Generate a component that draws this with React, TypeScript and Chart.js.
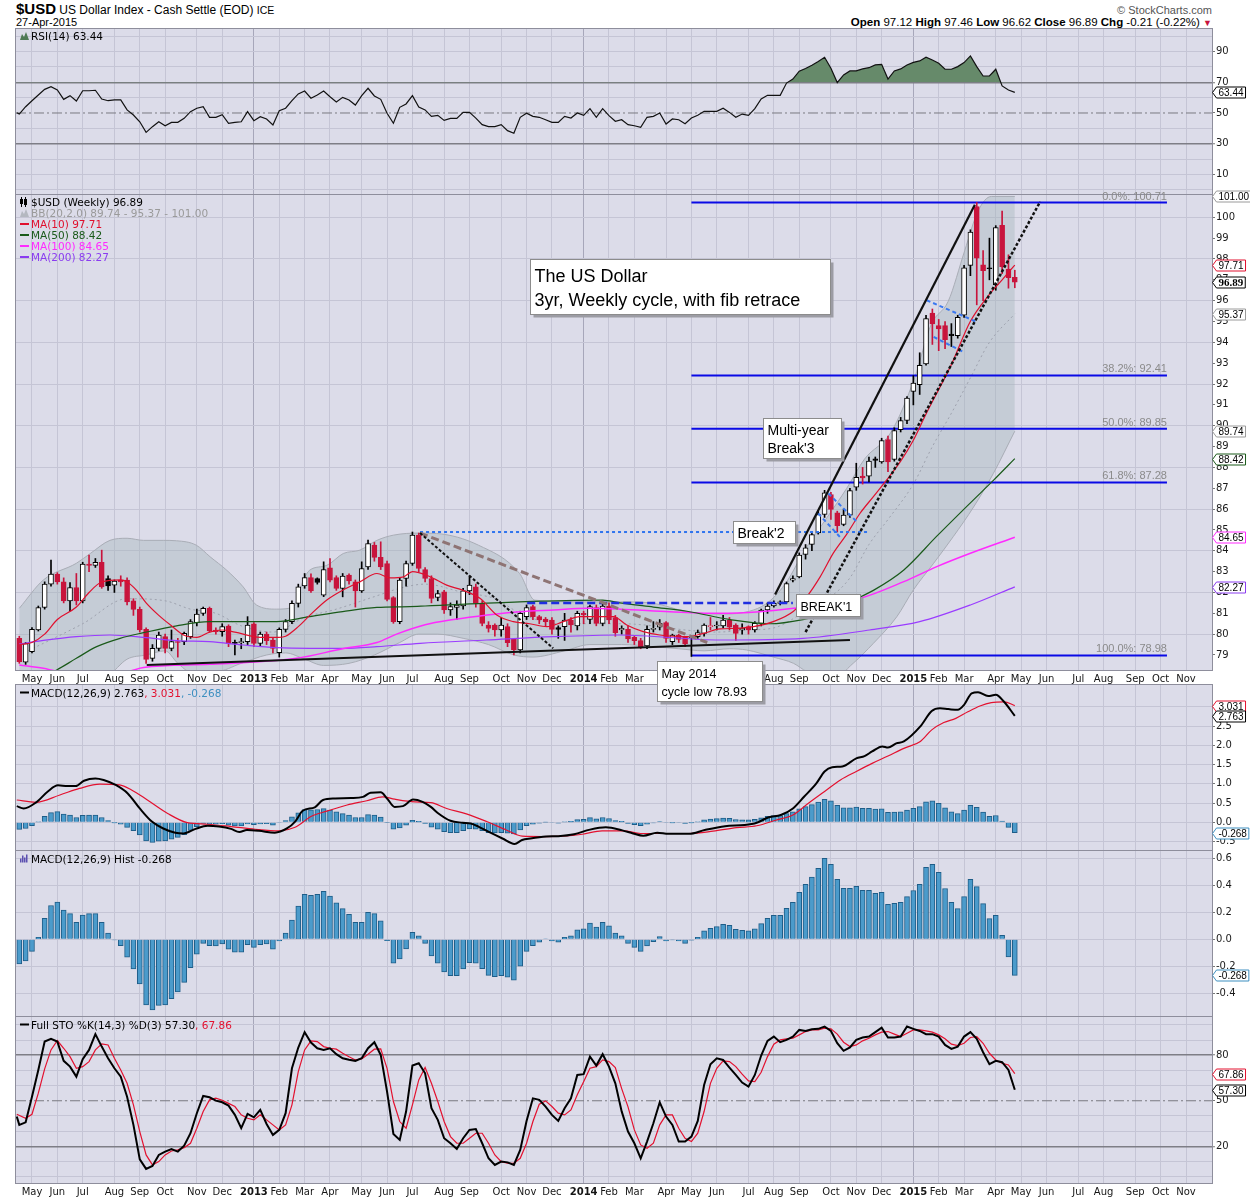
import React, { useEffect, useRef } from 'react';
import { Chart, registerables } from 'chart.js';

Chart.register(...registerables);

type P = [number, number];

// ---------------- categories (weekly candles, first week = 23-Apr-2012) ----------------
const FIRST_WEEK_UTC = Date.UTC(2012, 3, 23);
const WEEK_MS = 7 * 24 * 3600 * 1000;
const MONTH_NAMES = ['Jan', 'Feb', 'Mar', 'Apr', 'May', 'Jun', 'Jul', 'Aug', 'Sep', 'Oct', 'Nov', 'Dec'];
const X_MIN = -0.52;
const X_MAX = 188.1;

// ---------------- weekly OHLC ----------------
const OPEN = [79.80, 78.65, 79.16, 80.20, 81.28, 82.40, 82.88, 82.51, 81.60, 82.24,
  81.60, 83.36, 83.30, 83.44, 82.67, 82.35, 82.59, 82.59, 81.60, 81.19,
  80.23, 78.84, 79.32, 79.88, 79.32, 79.64, 79.64, 79.88, 80.55, 81.00,
  81.24, 80.20, 80.12, 80.39, 79.59, 79.59, 79.64, 80.49, 79.56, 80.00,
  79.72, 79.11, 80.23, 80.60, 81.48, 82.32, 82.72, 82.67, 81.87, 83.18,
  82.72, 82.19, 82.83, 82.51, 82.08, 83.23, 84.27, 83.68, 83.39, 81.76,
  80.60, 82.67, 83.39, 84.75, 83.10, 82.67, 81.76, 82.03, 81.16, 81.28,
  81.35, 82.08, 82.27, 81.48, 80.44, 80.44, 80.20, 80.36, 79.75, 79.24,
  80.84, 81.32, 80.84, 80.72, 80.68, 80.32, 80.36, 80.68, 80.39, 81.00,
  80.71, 81.28, 80.52, 81.35, 80.80, 80.20, 80.23, 79.85, 79.69, 79.43,
  80.23, 80.33, 80.56, 79.64, 79.96, 79.85, 79.83, 79.88, 80.04, 80.36,
  80.39, 80.39, 80.68, 80.44, 80.20, 80.36, 80.20, 80.52, 81.16, 81.35,
  81.47, 81.55, 82.59, 82.75, 83.82, 84.30, 84.86, 85.74, 86.70, 85.82,
  85.26, 85.71, 87.05, 87.58, 87.58, 88.41, 88.26, 89.33, 88.38, 89.81,
  90.25, 91.65, 91.97, 92.96, 95.41, 94.80, 94.80, 94.40, 94.32, 95.30,
  97.69, 100.52, 97.72, 97.57, 96.77, 99.61, 97.52, 97.12];
const HIGH = [79.90, 79.60, 80.32, 81.35, 82.51, 83.55, 82.95, 82.70, 82.48, 82.91,
  83.45, 83.79, 83.63, 84.03, 82.80, 82.60, 82.80, 82.70, 81.70, 81.30,
  80.30, 79.50, 80.10, 80.00, 80.20, 79.80, 80.10, 80.70, 81.20, 81.30,
  81.30, 80.30, 80.50, 80.45, 79.72, 79.80, 80.84, 80.55, 80.10, 80.10,
  79.80, 80.30, 80.70, 81.60, 82.40, 82.91, 82.90, 82.70, 83.47, 83.63,
  82.80, 82.91, 82.90, 82.60, 83.47, 84.51, 84.40, 84.43, 83.50, 81.80,
  82.70, 83.50, 84.90, 84.85, 83.20, 82.80, 82.10, 82.10, 81.50, 81.60,
  82.20, 82.80, 82.40, 81.60, 80.60, 80.50, 80.80, 80.50, 79.80, 81.10,
  81.40, 81.40, 80.90, 80.80, 80.80, 80.40, 81.00, 80.80, 81.10, 81.10,
  81.40, 81.40, 81.50, 81.50, 80.90, 80.40, 80.40, 79.90, 79.80, 80.40,
  80.60, 80.70, 80.60, 80.00, 80.00, 79.90, 79.90, 80.20, 80.50, 80.80,
  80.60, 80.90, 80.80, 80.50, 80.50, 80.40, 80.60, 81.20, 81.50, 81.60,
  81.60, 82.50, 82.80, 83.90, 84.30, 84.90, 85.90, 86.90, 86.80, 85.90,
  86.00, 87.00, 88.20, 88.00, 88.50, 88.50, 89.40, 89.50, 89.90, 90.40,
  91.40, 92.40, 93.50, 95.30, 95.60, 95.10, 95.00, 94.90, 95.30, 97.70,
  99.40, 100.71, 98.40, 99.00, 99.60, 100.30, 98.20, 97.46];
const LOW = [78.60, 78.55, 79.10, 80.15, 81.20, 82.30, 82.40, 81.50, 81.12, 81.40,
  81.50, 83.00, 83.20, 82.20, 82.10, 82.00, 82.30, 81.40, 80.90, 80.10,
  78.60, 78.70, 79.20, 79.10, 79.20, 78.90, 79.50, 79.80, 80.40, 80.90,
  80.10, 80.00, 79.90, 79.40, 79.00, 79.30, 79.50, 79.40, 79.40, 79.50,
  79.10, 78.90, 80.10, 80.50, 81.30, 82.20, 82.00, 82.40, 81.80, 82.50,
  82.10, 81.79, 82.40, 81.30, 82.00, 83.10, 83.50, 83.10, 81.60, 80.52,
  80.50, 82.30, 83.30, 83.00, 82.50, 81.50, 81.60, 81.00, 80.90, 80.70,
  81.20, 81.90, 81.30, 80.40, 80.10, 79.90, 79.90, 79.40, 79.00, 79.10,
  80.70, 80.70, 80.50, 80.40, 80.00, 79.80, 79.70, 80.10, 80.20, 80.50,
  80.50, 80.40, 80.40, 80.50, 79.90, 80.00, 79.60, 79.50, 79.30, 79.30,
  80.10, 80.20, 79.60, 79.50, 79.60, 79.40, 78.93, 79.80, 79.90, 80.20,
  80.20, 80.30, 80.20, 79.70, 80.00, 80.00, 80.10, 80.40, 81.00, 81.30,
  81.40, 81.50, 82.50, 82.70, 83.60, 84.00, 84.80, 85.60, 85.50, 84.90,
  85.20, 85.60, 86.90, 87.20, 87.30, 88.00, 88.20, 87.80, 88.30, 89.70,
  90.10, 91.00, 91.50, 92.90, 93.90, 93.60, 93.70, 93.80, 94.20, 95.20,
  97.20, 95.80, 96.00, 97.00, 96.50, 97.30, 96.60, 96.62];
const CLOSE = [78.68, 79.55, 80.23, 81.28, 82.40, 82.88, 82.51, 81.60, 82.24, 81.60,
  83.36, 83.30, 83.44, 82.27, 82.32, 82.55, 82.50, 81.55, 81.19, 80.20,
  78.79, 79.32, 79.96, 79.32, 79.64, 79.60, 80.04, 80.60, 80.96, 81.24,
  80.16, 80.12, 80.36, 79.56, 79.56, 79.64, 80.44, 79.56, 80.00, 79.69,
  79.32, 80.23, 80.60, 81.48, 82.27, 82.72, 82.07, 82.48, 83.10, 82.59,
  82.19, 82.79, 82.55, 82.08, 83.15, 84.35, 83.68, 83.23, 81.67, 80.60,
  82.59, 83.39, 84.75, 83.15, 82.67, 81.71, 81.95, 81.16, 81.32, 81.40,
  82.08, 82.35, 81.48, 80.52, 80.28, 80.20, 80.44, 79.59, 79.24, 81.00,
  81.28, 80.84, 80.68, 80.60, 80.23, 80.23, 80.68, 80.44, 81.00, 80.92,
  81.32, 80.52, 81.35, 80.68, 80.07, 80.28, 79.77, 79.69, 79.40, 80.23,
  80.28, 80.52, 79.80, 79.96, 79.75, 79.53, 79.88, 80.07, 80.44, 80.39,
  80.44, 80.68, 80.33, 80.04, 80.28, 80.20, 80.52, 81.16, 81.35, 81.48,
  81.55, 82.43, 82.67, 83.79, 84.14, 84.78, 85.74, 86.78, 85.98, 85.21,
  85.71, 86.89, 87.53, 87.50, 88.30, 88.33, 89.29, 88.26, 89.77, 90.25,
  91.33, 92.05, 92.90, 95.14, 94.88, 94.64, 94.13, 94.32, 95.20, 97.57,
  99.29, 98.04, 97.44, 97.53, 99.51, 97.63, 97.10, 96.89];

// ---------------- overlays: [week index, value] ----------------
const MA10: P[] = [[0, 79.5], [2, 79.6], [4, 80.0], [6, 80.7], [9, 81.3], [11, 82.0], [13, 82.5], [16, 82.6], [17, 82.5], [18.5, 82.1], [20, 81.5], [22, 80.9], [24, 80.4], [26, 79.95], [28, 79.85], [30, 80.1], [32, 80.2], [34, 80.1], [38, 79.85], [41, 79.85], [42, 79.9], [44, 80.36], [46, 80.96], [48.5, 81.64], [51, 82.11], [53.7, 82.51], [56.4, 82.91], [58.5, 82.7], [60.6, 82.75], [62, 83.0], [64.8, 82.75], [67.4, 82.35], [70, 82.1], [72.7, 81.71], [75.3, 80.92], [77.9, 80.6], [80.5, 80.5], [83.2, 80.36], [85.8, 80.6], [88.4, 80.84], [91.1, 80.84], [93.7, 80.84], [95.8, 80.44], [98.4, 80.12], [101, 79.96], [103.1, 79.9], [105.3, 79.88], [107.9, 80.04], [110.5, 80.25], [113.2, 80.28], [115.8, 80.36], [118.9, 80.6], [122.1, 81.1], [124.2, 81.8], [126.3, 82.75], [128.4, 83.9], [130.5, 84.8], [132.6, 85.8], [134.7, 86.6], [136.8, 87.4], [139, 88.3], [141, 89.3], [143, 90.56], [147, 92.94], [150, 95.01], [153, 96.3], [155, 97.0], [157, 97.71]];
const MA50: P[] = [[0, 77.4], [5.9, 78.28], [9, 78.84], [12.2, 79.4], [15.9, 79.8], [19.6, 80.07], [24.8, 80.4], [30, 80.6], [35.3, 80.6], [40.6, 80.6], [45.8, 80.84], [51, 81.08], [56.4, 81.28], [61.6, 81.32], [64, 81.35], [78.9, 81.55], [92, 81.63], [94.7, 81.5], [100, 81.3], [105.3, 81.1], [112.1, 80.7], [118.4, 80.5], [123.6, 80.7], [127.4, 81.0], [131.6, 81.64], [134.7, 82.1], [139.5, 83.08], [144.7, 84.7], [150, 86.3], [153.7, 87.4], [157, 88.42]];
const MA100: P[] = [[0, 78.52], [3.8, 78.36], [6, 78.22], [12, 78.1], [17, 78.2], [19.6, 78.4], [30, 78.55], [43.7, 78.84], [51, 79.3], [56.4, 79.6], [59.5, 80.0], [64, 80.45], [68.5, 80.7], [73.8, 80.92], [79, 81.08], [84.3, 81.16], [89.5, 81.24], [94.7, 81.2], [102.6, 81.08], [110.5, 81.0], [116.8, 81.08], [122.1, 81.24], [132.6, 81.72], [139.5, 82.52], [144.7, 83.24], [150, 83.88], [157, 84.65]];
const MA200: P[] = [[0, 79.53], [3.8, 79.7], [9, 79.88], [14.3, 79.96], [19.6, 79.85], [24.8, 79.69], [30, 79.64], [35.3, 79.48], [40.6, 79.35], [45.8, 79.32], [51, 79.32], [56.4, 79.4], [63.2, 79.56], [73.7, 79.72], [84.3, 79.88], [94.7, 79.96], [110.5, 79.72], [123.6, 79.8], [134.1, 80.2], [142, 80.6], [150, 81.4], [157, 82.27]];
const BB_UPPER: P[] = [[0, 81.24], [3.8, 82.6], [9, 83.4], [11.2, 83.87], [14.3, 84.5], [17, 84.6], [19.6, 84.5], [22.7, 84.5], [24.8, 84.48], [27.9, 84.27], [30.1, 83.71], [32.7, 83.07], [35.3, 82.27], [37.4, 81.4], [40.6, 81.2], [43.2, 81.3], [44.8, 82.6], [45.8, 83.07], [48.5, 83.3], [51.1, 83.87], [53.7, 84.03], [56.4, 84.5], [59, 84.75], [63.2, 84.85], [65.8, 84.83], [72.4, 84.27], [78.9, 82.91], [81.3, 81.63], [89.5, 81.55], [94.8, 81.55], [100, 81.48], [105.3, 81.08], [110.5, 80.96], [115.8, 81.16], [118.4, 81.6], [121, 82.5], [124, 84.1], [127.4, 85.6], [130.5, 87.0], [133.3, 88.4], [137.5, 89.7], [141.2, 92.3], [143.8, 94.85], [146.5, 95.97], [149.1, 98.4], [151.2, 100.3], [153.3, 101.0], [157, 101.0]];
const BB_LOWER: P[] = [[0, 76.8], [5, 77.2], [10, 77.6], [14, 78.0], [17, 78.8], [20, 79.0], [23, 79.2], [25, 78.6], [27, 78.2], [31, 78.2], [35, 78.6], [39, 79.0], [42, 79.1], [45, 78.8], [48, 78.5], [52, 78.6], [56, 79.0], [60, 79.6], [63, 80.0], [66, 80.0], [70, 79.8], [74, 79.5], [78, 79.0], [81, 78.9], [86, 79.2], [90, 79.5], [95, 79.5], [100, 79.4], [104, 79.3], [108, 79.2], [112, 79.3], [114.7, 79.24], [118.9, 78.9], [122.1, 78.6], [124.2, 78.2], [128, 77.8], [131.5, 78.6], [134.7, 79.56], [138.4, 80.84], [141, 82.12], [144.2, 83.4], [147.3, 84.68], [150.5, 86.1], [153.6, 87.7], [157, 89.74]];
const BB_MID: P[] = [[0, 79.0], [10, 80.5], [17, 81.7], [23, 81.6], [27, 81.2], [31, 81.0], [35, 80.4], [40, 80.1], [45, 80.8], [50, 81.2], [56, 81.8], [60, 82.2], [64, 82.4], [70, 82.0], [75, 81.7], [79, 81.0], [85, 80.5], [90, 80.5], [95, 80.5], [100, 80.4], [105, 80.2], [110, 80.1], [115, 80.2], [119, 80.3], [124, 81.1], [128, 81.8], [131, 82.7], [134, 84.3], [137, 85.5], [141, 87.2], [144, 89.0], [147, 90.6], [150, 92.3], [153, 94.0], [157, 95.37]];

// Fibonacci retracement levels (0%, 38.2%, 50%, 61.8%, 100%)
const FIB_LEVELS = [100.71, 92.41, 89.85, 87.28, 78.98];
const FIB_NAMES = ['0.0%', '38.2%', '50.0%', '61.8%', '100.0%'];
const FIB_SPAN: P = [106, 181];

// hand-drawn trend lines: pairs of [week index, price]
const SUPPORT_LINE: P[] = [[20.1, 78.52], [131, 79.72]];
const RALLY_LINE: P[] = [[119.2, 81.9], [150.7, 100.6]];
const RALLY_DOTTED: P[] = [[124, 80.1], [161, 100.75]];
const DOWN_DOTTED: P[] = [[63.2, 84.85], [84.2, 79.32]];
const DOWN_DASHED: P[] = [[63.2, 84.85], [108.5, 79.6]];
const BREAK2_LINE: P[] = [[63.2, 84.9], [134, 84.9]];
const BREAK1_LINE: P[] = [[80.1, 81.5], [122, 81.5]];
const FLAG_LINES: P[][] = [
  [[126.0, 85.79], [129.4, 84.67]], [[127.6, 86.75], [132.1, 85.39]],
  [[143.1, 96.02], [151.0, 94.98]], [[144.2, 94.26], [148.9, 93.54]],
];

// ---------------- RSI(14) ----------------
const RSI: P[] = [[-0.4, 50.2], [0, 49.3], [1, 54.1], [2, 58.0], [3, 61.7], [4, 65.4], [5, 67.1], [6, 65.0], [7, 58.9], [8, 61.3], [9, 57.8], [10, 64.5], [11, 64.5], [12, 64.8], [13, 59.1], [14, 58.0], [15, 58.5], [16, 58.5], [17, 52.0], [18, 48.7], [19, 44.3], [20, 37.4], [21, 41.1], [22, 44.3], [23, 41.7], [24, 43.9], [25, 43.9], [26, 46.5], [27, 50.9], [28, 53.1], [29, 54.1], [30, 47.2], [31, 47.2], [32, 48.9], [33, 43.3], [34, 43.9], [35, 44.3], [36, 50.9], [37, 45.0], [38, 47.6], [39, 46.1], [40, 42.2], [41, 51.5], [42, 53.1], [43, 58.0], [44, 62.4], [45, 64.3], [46, 59.6], [47, 61.7], [48, 64.3], [49, 60.6], [50, 57.2], [51, 60.2], [52, 58.5], [53, 55.2], [54, 61.3], [55, 66.1], [56, 61.1], [57, 58.9], [58, 49.8], [59, 43.3], [60, 53.7], [61, 55.9], [62, 61.3], [63, 53.9], [64, 52.0], [65, 47.8], [66, 48.5], [67, 45.2], [68, 46.5], [69, 46.5], [70, 50.4], [71, 50.4], [72, 46.7], [73, 42.4], [74, 41.1], [75, 41.1], [76, 42.4], [77, 38.5], [78, 36.8], [79, 47.2], [80, 49.8], [81, 47.8], [82, 47.2], [83, 45.6], [84, 43.9], [85, 43.9], [86, 47.8], [87, 46.7], [88, 50.0], [89, 48.5], [90, 52.8], [91, 47.2], [92, 52.8], [93, 48.3], [94, 44.6], [95, 45.6], [96, 42.4], [97, 41.7], [98, 40.7], [99, 47.2], [100, 47.8], [101, 50.0], [102, 42.8], [103, 46.1], [104, 45.6], [105, 43.0], [106, 46.7], [107, 48.5], [108, 51.1], [109, 51.1], [110, 51.1], [111, 53.1], [112, 50.4], [113, 47.2], [114, 49.3], [115, 48.5], [116, 52.8], [117, 59.1], [118, 61.5], [119, 61.5], [120, 61.5], [121, 69.5], [122, 72.1], [123, 77.2], [124, 79.0], [125, 81.1], [126, 83.5], [127, 86.3], [128, 79.1], [129, 69.8], [130, 74.8], [131, 77.4], [132, 77.4], [133, 78.7], [134, 79.5], [135, 81.3], [136, 81.7], [137, 72.1], [138, 77.4], [139, 78.7], [140, 81.3], [141, 83.0], [142, 83.9], [143, 86.3], [144, 84.5], [145, 82.4], [146, 78.5], [147, 78.5], [148, 80.2], [149, 82.8], [150, 87.2], [151, 80.2], [152, 74.1], [153, 74.1], [154, 78.5], [155, 67.6], [156, 65.0], [157, 63.44]];

// ---------------- MACD(12,26,9) ----------------
const MACD_LINE: P[] = [[-0.4, 0.42], [0.7, 0.36], [2.6, 0.51], [4.5, 0.80], [6.1, 0.96], [7.6, 0.94], [8.9, 0.94], [10.2, 1.08], [12, 1.14], [13.3, 1.10], [15.2, 0.97], [17.1, 0.75], [19, 0.36], [20.9, 0.02], [22.7, -0.16], [24.6, -0.27], [25.9, -0.29], [27.8, -0.17], [29.7, -0.09], [31.5, -0.11], [33.4, -0.17], [34.7, -0.25], [35.9, -0.20], [37.8, -0.22], [40.3, -0.27], [42.2, -0.16], [43.5, 0.02], [44.7, 0.30], [46.6, 0.39], [47.9, 0.58], [49.8, 0.62], [52.3, 0.63], [54.2, 0.66], [55.4, 0.77], [57, 0.78], [58, 0.62], [59.2, 0.40], [60.5, 0.42], [62.1, 0.59], [63.6, 0.53], [64.9, 0.40], [66.1, 0.23], [68, 0.04], [69.9, -0.01], [71.2, -0.03], [72.4, -0.11], [74.3, -0.27], [76.2, -0.42], [78.1, -0.56], [79.3, -0.46], [80.6, -0.42], [83.1, -0.37], [85, -0.36], [87.5, -0.31], [90, -0.19], [92.5, -0.13], [95.1, -0.21], [96.8, -0.29], [98.4, -0.35], [100.6, -0.27], [102.4, -0.30], [105.6, -0.30], [108.1, -0.20], [111.3, -0.10], [114.4, -0.07], [116.3, -0.01], [118.2, 0.13], [120.1, 0.19], [122, 0.36], [123.8, 0.67], [125.7, 1.01], [127, 1.32], [128.2, 1.43], [129.8, 1.45], [132, 1.66], [133.3, 1.72], [134.5, 1.84], [136.1, 1.97], [137, 1.94], [138.3, 2.05], [139.5, 2.10], [142.1, 2.49], [143.9, 2.89], [145.2, 2.96], [146.5, 2.94], [148, 2.92], [149, 3.05], [150.2, 3.35], [151.2, 3.38], [152.8, 3.28], [154, 3.31], [155.3, 3.13], [157, 2.763]];
const MACD_SIGNAL: P[] = [[-0.4, 0.58], [2.6, 0.52], [6.4, 0.71], [9.5, 0.88], [12.7, 0.99], [15.8, 0.97], [17.7, 0.84], [20.2, 0.58], [23.4, 0.23], [26.5, -0.01], [29.7, -0.05], [33.4, -0.11], [37.2, -0.18], [41, -0.22], [43.5, -0.13], [46, 0.15], [48.5, 0.29], [51.7, 0.45], [54.8, 0.56], [57.3, 0.66], [59.2, 0.60], [62.4, 0.53], [64.9, 0.51], [67.4, 0.36], [70.5, 0.22], [73.7, 0.02], [76.8, -0.20], [79.3, -0.36], [82.5, -0.37], [85.6, -0.36], [88.8, -0.31], [91.9, -0.22], [95.3, -0.22], [98, -0.29], [101.8, -0.29], [105.6, -0.29], [109.4, -0.23], [113.1, -0.14], [116.3, -0.09], [119.4, 0.06], [122, 0.19], [124.5, 0.50], [127, 0.80], [129.5, 1.10], [132, 1.32], [134.5, 1.53], [137, 1.72], [139.5, 1.92], [142.1, 2.10], [143.9, 2.40], [145.8, 2.59], [147.7, 2.70], [149.6, 2.87], [151.5, 3.02], [153.3, 3.11], [155.3, 3.13], [157, 3.031]];
const MACD_HIST = [-0.183, -0.16, -0.09, 0.015, 0.155, 0.25, 0.276, 0.217, 0.19, 0.125,
  0.18, 0.19, 0.19, 0.125, 0.045, -0.005, -0.047, -0.133, -0.22, -0.33,
  -0.486, -0.523, -0.49, -0.486, -0.44, -0.39, -0.32, -0.21, -0.11, -0.03,
  -0.047, -0.05, -0.035, -0.074, -0.096, -0.096, -0.04, -0.06, -0.04, -0.035,
  -0.074, -0.012, 0.045, 0.143, 0.245, 0.333, 0.326, 0.333, 0.356, 0.32,
  0.27, 0.227, 0.185, 0.125, 0.125, 0.2, 0.19, 0.136, -0.01, -0.178,
  -0.146, -0.072, 0.052, 0.025, -0.03, -0.123, -0.178, -0.242, -0.27, -0.27,
  -0.22, -0.173, -0.178, -0.217, -0.267, -0.277, -0.27, -0.28, -0.304, -0.2,
  -0.09, -0.047, -0.022, 0.004, -0.012, -0.022, 0.015, 0.025, 0.07, 0.077,
  0.12, 0.09, 0.125, 0.1, 0.045, 0.025, -0.03, -0.06, -0.09, -0.05,
  -0.017, 0.02, -0.012, -0.005, -0.012, -0.03, -0.007, 0.015, 0.062, 0.081,
  0.094, 0.11, 0.104, 0.074, 0.067, 0.062, 0.077, 0.116, 0.156, 0.178,
  0.178, 0.23, 0.274, 0.348, 0.407, 0.46, 0.526, 0.6, 0.556, 0.444,
  0.378, 0.378, 0.393, 0.363, 0.363, 0.341, 0.348, 0.259, 0.267, 0.274,
  0.316, 0.361, 0.407, 0.533, 0.556, 0.496, 0.376, 0.274, 0.227, 0.316,
  0.444, 0.39, 0.264, 0.153, 0.178, 0.03, -0.131, -0.268];

// ---------------- Full Stochastics %K(14,3) %D(3) ----------------
const STO_K: P[] = [[-0.4, 39.6], [0, 34.1], [1, 35.8], [2, 52.7], [3, 70.3], [4, 89.0], [5, 90.8], [6, 89.0], [7, 76.3], [8, 72.5], [9, 65.9], [10, 77.4], [11, 83.5], [12, 93.9], [13, 85.7], [14, 78.0], [15, 71.4], [16, 65.9], [17, 52.7], [18, 34.1], [19, 11.4], [20, 5.1], [21, 7.0], [22, 14.3], [23, 16.5], [24, 18.2], [25, 16.5], [26, 20.4], [27, 28.6], [28, 41.8], [29, 53.2], [30, 52.3], [31, 50.1], [32, 49.0], [33, 46.8], [34, 40.7], [35, 31.9], [36, 41.3], [37, 39.1], [38, 44.0], [39, 34.7], [40, 27.5], [41, 30.8], [42, 41.8], [43, 71.4], [44, 85.1], [45, 95.2], [46, 88.4], [47, 84.6], [48, 83.5], [49, 84.6], [50, 80.7], [51, 78.0], [52, 77.0], [53, 76.3], [54, 78.0], [55, 84.6], [56, 88.6], [57, 80.2], [58, 56.0], [59, 28.1], [60, 24.2], [61, 42.9], [62, 73.2], [63, 74.7], [64, 68.1], [65, 45.1], [66, 37.4], [67, 25.3], [68, 22.0], [69, 18.2], [70, 25.3], [71, 30.8], [72, 31.4], [73, 22.0], [74, 12.1], [75, 7.7], [76, 9.9], [77, 9.4], [78, 7.7], [79, 17.6], [80, 36.7], [81, 51.6], [82, 50.6], [83, 46.2], [84, 40.7], [85, 36.7], [86, 45.1], [87, 51.6], [88, 67.0], [89, 67.5], [90, 79.1], [91, 73.2], [92, 80.7], [93, 72.5], [94, 61.5], [95, 43.0], [96, 29.7], [97, 22.0], [98, 12.1], [99, 23.1], [100, 35.2], [101, 49.0], [102, 39.6], [103, 34.1], [104, 23.1], [105, 23.1], [106, 26.4], [107, 36.7], [108, 60.4], [109, 74.1], [110, 78.0], [111, 76.9], [112, 71.9], [113, 67.0], [114, 62.0], [115, 59.3], [116, 67.0], [117, 79.8], [118, 89.5], [119, 92.3], [120, 88.6], [121, 90.1], [122, 92.3], [123, 96.7], [124, 96.0], [125, 97.1], [126, 97.4], [127, 98.9], [128, 96.0], [129, 87.9], [130, 82.9], [131, 85.1], [132, 90.1], [133, 91.7], [134, 92.3], [135, 95.2], [136, 98.2], [137, 91.7], [138, 91.7], [139, 92.3], [140, 98.9], [141, 97.4], [142, 96.0], [143, 93.9], [144, 93.9], [145, 92.3], [146, 86.8], [147, 84.2], [148, 85.7], [149, 92.3], [150, 95.2], [151, 90.8], [152, 82.0], [153, 74.1], [154, 76.3], [155, 75.4], [156, 70.3], [157, 57.3]];
const STO_D: P[] = [[-0.4, 41.1], [1, 38.5], [2, 41.1], [3, 55.0], [4, 71.0], [5, 83.5], [6, 89.7], [7, 84.6], [8, 79.1], [9, 71.4], [10, 72.5], [11, 75.8], [12, 83.5], [13, 87.5], [14, 86.8], [15, 78.0], [16, 70.3], [17, 61.5], [18, 47.3], [19, 29.7], [20, 14.3], [21, 7.7], [22, 9.9], [23, 14.3], [24, 16.9], [25, 17.6], [26, 19.1], [27, 22.0], [28, 31.9], [29, 42.9], [30, 50.6], [31, 51.7], [32, 50.3], [33, 48.3], [34, 46.2], [35, 40.7], [36, 38.5], [37, 37.4], [38, 40.7], [39, 37.4], [40, 34.1], [41, 30.8], [42, 34.1], [43, 47.3], [44, 69.2], [45, 83.5], [46, 89.5], [47, 89.0], [48, 85.7], [49, 84.6], [50, 84.0], [51, 81.3], [52, 79.0], [53, 76.9], [54, 77.6], [55, 80.7], [56, 84.0], [57, 84.2], [58, 71.4], [59, 49.5], [60, 36.3], [61, 31.9], [62, 47.3], [63, 63.7], [64, 71.9], [65, 61.5], [66, 49.5], [67, 36.3], [68, 26.4], [69, 22.0], [70, 22.0], [71, 25.3], [72, 28.6], [73, 28.6], [74, 22.0], [75, 14.3], [76, 9.9], [77, 8.8], [78, 8.8], [79, 12.1], [80, 22.0], [81, 36.3], [82, 47.7], [83, 49.9], [84, 46.2], [85, 41.8], [86, 40.7], [87, 44.0], [88, 53.9], [89, 62.6], [90, 71.4], [91, 72.5], [92, 76.9], [93, 75.8], [94, 71.9], [95, 58.0], [96, 46.0], [97, 30.8], [98, 20.9], [99, 18.7], [100, 22.0], [101, 34.1], [102, 40.7], [103, 40.7], [104, 31.9], [105, 25.3], [106, 23.1], [107, 28.6], [108, 42.9], [109, 61.5], [110, 71.4], [111, 76.3], [112, 75.8], [113, 72.5], [114, 67.5], [115, 63.1], [116, 62.6], [117, 68.8], [118, 79.1], [119, 87.3], [120, 90.1], [121, 90.8], [122, 91.2], [123, 93.4], [124, 95.6], [125, 96.7], [126, 96.7], [127, 97.8], [128, 97.4], [129, 93.9], [130, 88.6], [131, 85.7], [132, 86.8], [133, 89.5], [134, 91.2], [135, 93.4], [136, 95.2], [137, 95.6], [138, 93.9], [139, 92.3], [140, 94.5], [141, 96.7], [142, 96.7], [143, 96.0], [144, 95.2], [145, 93.4], [146, 90.8], [147, 87.3], [148, 86.4], [149, 87.9], [150, 91.7], [151, 92.3], [152, 87.9], [153, 81.3], [154, 76.9], [155, 74.7], [156, 73.6], [157, 67.86]];

// ---------------- axis tick values ----------------
const PRICE_TICKS = [79, 80, 81, 82, 83, 84, 85, 86, 87, 88, 89, 90, 91, 92, 93, 94, 95, 96, 97, 98, 99, 100, 101];
const OSC_TICKS = [0, 10, 20, 30, 40, 50, 60, 70, 80, 90, 100];
const RSI_LABELS = [10, 30, 50, 70, 90];
const STO_LABELS = [20, 50, 80];
const MACD_TICKS = [-0.5, 0, 0.5, 1, 1.5, 2, 2.5, 3];
const HIST_TICKS = [-0.4, -0.2, 0, 0.2, 0.4, 0.6];

// ---------------- styles ----------------
const BG = '#dcdce9';
const GRID = '#c5c5d5';
const GRID_YEAR = '#a7a7ba';
const GRID_DARK = '#7e7e86';
const BORDER = '#8e8e9c';
const CANDLE_RED = '#c8143c';
const LINE_RED = '#e3112f';
const HIST_FILL = '#4b9bcb';
const HIST_EDGE = '#1e5d88';
const FONT = '"DejaVu Sans", Verdana, sans-serif';
const SANS = '"Liberation Sans", Arial, sans-serif';

// month ticks derived from the weekly calendar
const MONTH_TICKS: { v: number; label: string; year: boolean }[] = [];
for (let i = 1; i <= 188; i++) {
  const a = new Date(FIRST_WEEK_UTC + (i - 1) * WEEK_MS);
  const b = new Date(FIRST_WEEK_UTC + i * WEEK_MS);
  if (a.getUTCMonth() !== b.getUTCMonth()) {
    const m = b.getUTCMonth();
    MONTH_TICKS.push({ v: i, label: m === 0 ? String(b.getUTCFullYear()) : MONTH_NAMES[m], year: m === 0 });
  }
}
const tickOf = (v: number) => MONTH_TICKS.find((t) => Math.abs(t.v - v) < 1e-6);

const xy = (a: P[]) => a.map(([x, y]) => ({ x, y }));

const lineDs = (data: P[], color: string, width: number, extra: any = {}) => ({
  type: 'line',
  data: xy(data),
  borderColor: color,
  borderWidth: width,
  pointRadius: 0,
  fill: false,
  ...extra,
});

function xScale(showLabels: boolean) {
  return {
    type: 'linear',
    min: X_MIN,
    max: X_MAX,
    offset: false,
    afterBuildTicks: (s: any) => {
      s.ticks = MONTH_TICKS.map((t) => ({ value: t.v }));
    },
    grid: {
      offset: false,
      drawTicks: false,
      color: (c: any) => (c.tick && tickOf(c.tick.value)?.year ? GRID_YEAR : GRID),
      lineWidth: 1,
    },
    border: { display: false },
    ticks: {
      display: showLabels,
      autoSkip: false,
      maxRotation: 0,
      padding: 3,
      color: '#151515',
      font: (c: any) => ({ family: FONT, size: 10, weight: c.tick && tickOf(c.tick.value)?.year ? 'bold' : 'normal' }),
      callback: (v: number) => tickOf(v)?.label ?? '',
    },
    afterFit: (s: any) => {
      s.height = showLabels ? 15 : 0;
      s.paddingLeft = 0;
      s.paddingRight = 0;
    },
  };
}

function yScale(p: { min: number; max: number; ticks: number[]; label: (v: number) => string; grid: (v: number) => string; width?: (v: number) => number }) {
  return {
    type: 'linear',
    position: 'right',
    min: p.min,
    max: p.max,
    afterBuildTicks: (s: any) => {
      s.ticks = p.ticks.map((v) => ({ value: v }));
    },
    grid: {
      color: (c: any) => (c.tick ? p.grid(c.tick.value) : GRID),
      lineWidth: (c: any) => (c.tick && p.width ? p.width(c.tick.value) : 1),
      drawTicks: true,
      tickLength: 3,
      tickColor: (c: any) => (c.tick && p.label(c.tick.value) !== '' ? '#777' : 'rgba(0,0,0,0)'),
      tickWidth: 1,
    },
    border: { display: true, color: BORDER },
    ticks: {
      autoSkip: false,
      padding: 1,
      color: '#1a1a1a',
      font: { family: FONT, size: 10 },
      callback: (v: number) => p.label(v),
    },
    afterFit: (s: any) => {
      s.width = 38;
      s.paddingTop = 0;
      s.paddingBottom = 0;
    },
  };
}

type Part = [string, string];
type LegendRow = { icon: string; color: string; parts: Part[] };
type Tag = { v: number; text: string; color: string; bold?: boolean };

function drawIcon(ctx: CanvasRenderingContext2D, kind: string, color: string, x: number, base: number) {
  ctx.save();
  ctx.fillStyle = color;
  ctx.strokeStyle = color;
  if (kind === 'line') {
    ctx.fillRect(x, base - 5, 9, 2);
  } else if (kind === 'mountain') {
    ctx.beginPath();
    ctx.moveTo(x, base);
    ctx.lineTo(x + 2, base - 6);
    ctx.lineTo(x + 4, base - 3);
    ctx.lineTo(x + 6, base - 8);
    ctx.lineTo(x + 9, base);
    ctx.closePath();
    ctx.fill();
  } else if (kind === 'candle') {
    ctx.fillRect(x + 1, base - 9, 1, 10);
    ctx.fillRect(x, base - 7, 3, 5);
    ctx.fillRect(x + 5, base - 9, 1, 10);
    ctx.lineWidth = 1;
    ctx.strokeRect(x + 4.5, base - 6.5, 2, 5);
  } else if (kind === 'bars') {
    const hs = [4, 7, 5, 8];
    hs.forEach((h, k) => ctx.fillRect(x + k * 2, base - h, 1.5, h));
  }
  ctx.restore();
}

function drawLegend(ctx: CanvasRenderingContext2D, a: any, rows: LegendRow[], first: number) {
  ctx.save();
  ctx.font = `10.5px ${FONT}`;
  ctx.textBaseline = 'alphabetic';
  rows.forEach((r, k) => {
    const base = a.top + first + k * 11;
    drawIcon(ctx, r.icon, r.color, a.left + 4, base);
    let x = a.left + 15;
    r.parts.forEach(([t, c]) => {
      ctx.fillStyle = c;
      ctx.fillText(t, x, base);
      x += ctx.measureText(t).width;
    });
  });
  ctx.restore();
}

function drawTag(ctx: CanvasRenderingContext2D, x: number, y: number, t: Tag) {
  ctx.save();
  ctx.font = t.bold ? `bold 11px "Liberation Serif", serif` : `10px ${SANS}`;
  const w = ctx.measureText(t.text).width + 3;
  const h = 11;
  const yy = Math.round(y) + 0.5;
  ctx.beginPath();
  ctx.moveTo(x + 0.5, yy);
  ctx.lineTo(x + 4.5, yy - h / 2);
  ctx.lineTo(x + 5.5 + w, yy - h / 2);
  ctx.lineTo(x + 5.5 + w, yy + h / 2);
  ctx.lineTo(x + 4.5, yy + h / 2);
  ctx.closePath();
  ctx.fillStyle = '#ffffff';
  ctx.fill();
  ctx.strokeStyle = t.color;
  ctx.lineWidth = 1;
  ctx.stroke();
  ctx.fillStyle = '#000';
  ctx.textBaseline = 'middle';
  ctx.fillText(t.text, x + 6.5, yy + 0.5);
  ctx.restore();
}

function panelPlugin(cfg: { legend: LegendRow[]; legendFirst: number; tags: Tag[]; extra?: (chart: any) => void }) {
  return {
    id: 'panelDeco',
    beforeDraw(chart: any) {
      const { ctx, chartArea: a } = chart;
      ctx.save();
      ctx.fillStyle = BG;
      ctx.fillRect(a.left, a.top, a.right - a.left, a.bottom - a.top);
      ctx.restore();
    },
    afterDraw(chart: any) {
      const { ctx, chartArea: a } = chart;
      ctx.save();
      ctx.strokeStyle = BORDER;
      ctx.lineWidth = 1;
      ctx.strokeRect(a.left - 0.5, a.top - 0.5, a.right - a.left + 1, a.bottom - a.top + 1);
      ctx.restore();
      drawLegend(ctx, a, cfg.legend, cfg.legendFirst);
      if (cfg.extra) cfg.extra(chart);
      cfg.tags.forEach((t) => drawTag(ctx, a.right, chart.scales.y.getPixelForValue(t.v), t));
    },
  };
}

function baseOptions(padTop: number, padBottom: number, x: any, y: any) {
  return {
    responsive: false,
    animation: false,
    devicePixelRatio: 1,
    events: [],
    layout: { padding: { left: 16, right: 0, top: padTop, bottom: padBottom } },
    elements: { point: { radius: 0 }, line: { tension: 0 } },
    plugins: { legend: { display: false }, tooltip: { enabled: false }, title: { display: false } },
    scales: { x, y },
  };
}

const hline = (v: number): P[] => [[X_MIN, v], [X_MAX, v]];
const DASHDOT = [10, 3, 2, 3];

// ---------------- annotations in the price panel ----------------
const NOTES = [
  { x: 80.54, y: 98.0, w: 300, h: 55, size: 18, lines: ['The US Dollar', '3yr, Weekly cycle, with fib retrace'], first: 22, step: 24 },
  { x: 117.28, y: 90.37, w: 78, h: 40, size: 14, lines: ['Multi-year', "Break'3"], first: 16, step: 18 },
  { x: 112.55, y: 85.43, w: 62, h: 22, size: 14, lines: ["Break'2"], first: 16, step: 0 },
  { x: 122.49, y: 81.93, w: 64, h: 22, size: 12.5, lines: ["BREAK'1"], first: 16, step: 0 },
  { x: 100.57, y: 78.71, w: 105, h: 40, size: 12.5, lines: ['May 2014', 'cycle low 78.93'], first: 16, step: 18 },
];

function priceExtras(chart: any) {
  const { ctx } = chart;
  const xs = chart.scales.x;
  const ys = chart.scales.y;
  ctx.save();
  ctx.font = `11px ${SANS}`;
  ctx.fillStyle = '#8a8a8a';
  ctx.textAlign = 'right';
  ctx.textBaseline = 'alphabetic';
  FIB_LEVELS.forEach((v, k) => {
    ctx.fillText(`${FIB_NAMES[k]}: ${v.toFixed(2)}`, xs.getPixelForValue(FIB_SPAN[1]), ys.getPixelForValue(v) - 3);
  });
  ctx.restore();
  NOTES.forEach((n) => {
    const left = Math.round(xs.getPixelForValue(n.x)) + 0.5;
    const top = Math.round(ys.getPixelForValue(n.y)) + 0.5;
    ctx.save();
    ctx.fillStyle = '#9c9ca4';
    ctx.fillRect(left + 3, top + 3, n.w, n.h);
    ctx.fillStyle = '#ffffff';
    ctx.fillRect(left, top, n.w, n.h);
    ctx.strokeStyle = '#8c8c8c';
    ctx.lineWidth = 1;
    ctx.strokeRect(left, top, n.w, n.h);
    ctx.fillStyle = '#000';
    ctx.font = `${n.size}px ${SANS}`;
    ctx.textBaseline = 'alphabetic';
    n.lines.forEach((t, k) => ctx.fillText(t, left + 4, top + n.first + k * n.step));
    ctx.restore();
  });
}

// ---------------- chart configs ----------------
function rsiConfig() {
  return {
    type: 'line',
    data: {
      datasets: [
        lineDs(hline(50), '#7a7a80', 1, { borderDash: DASHDOT, order: 5 }),
        lineDs(RSI, '#111', 1.2, { fill: { target: { value: 70 }, above: '#668a6a', below: 'rgba(0,0,0,0)' }, order: 1 }),
      ],
    },
    options: baseOptions(8, 8, xScale(false), yScale({
      min: -3.4, max: 104.7, ticks: OSC_TICKS,
      label: (v) => (RSI_LABELS.includes(v) ? String(v) : ''),
      grid: (v) => (v === 30 || v === 70 ? GRID_DARK : v === 50 ? 'rgba(0,0,0,0)' : GRID),
      width: (v) => (v === 30 || v === 70 ? 1.5 : 1),
    })),
    plugins: [panelPlugin({
      legend: [{ icon: 'mountain', color: '#4f7a55', parts: [['RSI(14) 63.44', '#000']] }],
      legendFirst: 11,
      tags: [{ v: 63.44, text: '63.44', color: '#000' }],
    })],
  };
}

function priceConfig() {
  const up = OPEN.map((o, i) => CLOSE[i] >= o);
  const higher = CLOSE.map((c, i) => (i === 0 ? c >= OPEN[0] : c >= CLOSE[i - 1]));
  const edge = higher.map((h) => (h ? '#000000' : CANDLE_RED));
  const fillC = up.map((u, i) => (u ? '#ffffff' : edge[i]));
  return {
    type: 'line',
    data: {
      datasets: [
        lineDs(BB_UPPER, '#a9adb6', 1, { fill: '+1', backgroundColor: 'rgba(160,180,185,0.38)', cubicInterpolationMode: 'monotone', order: 30 }),
        lineDs(BB_LOWER, '#a9adb6', 1, { cubicInterpolationMode: 'monotone', order: 29 }),
        lineDs(BB_MID, '#9ea2ae', 1, { borderDash: [2, 3], cubicInterpolationMode: 'monotone', order: 28 }),
        ...FIB_LEVELS.map((v) => lineDs([[FIB_SPAN[0], v], [FIB_SPAN[1], v]], '#0a0ae6', 2, { order: 20 })),
        {
          type: 'bar',
          data: LOW.map((l, i) => ({ x: i, y: [l, HIGH[i]] })),
          backgroundColor: edge,
          borderWidth: 0,
          barThickness: 1,
          grouped: false,
          order: 12,
        },
        {
          type: 'bar',
          data: OPEN.map((o, i) => ({ x: i, y: [o, CLOSE[i]] })),
          backgroundColor: fillC,
          borderColor: edge,
          borderWidth: 1,
          borderSkipped: false,
          barThickness: 5,
          minBarLength: 1,
          grouped: false,
          order: 11,
        },
        lineDs(MA200, '#9a3cff', 1.2, { cubicInterpolationMode: 'monotone', order: 6 }),
        lineDs(MA100, '#ff2aff', 1.5, { cubicInterpolationMode: 'monotone', order: 5 }),
        lineDs(MA50, '#1a5a1a', 1.2, { cubicInterpolationMode: 'monotone', order: 4 }),
        lineDs(MA10, '#e0102e', 1.2, { cubicInterpolationMode: 'monotone', order: 3 }),
        lineDs(SUPPORT_LINE, '#111', 2.2, { order: 2 }),
        lineDs(RALLY_LINE, '#111', 2.2, { order: 2 }),
        lineDs(RALLY_DOTTED, '#111', 2.5, { borderDash: [3, 2], order: 2 }),
        lineDs(DOWN_DOTTED, '#111', 2, { borderDash: [3, 2], order: 2 }),
        lineDs(DOWN_DASHED, '#8e7474', 3, { borderDash: [8, 4], order: 2 }),
        lineDs(BREAK2_LINE, '#2f74ee', 2, { borderDash: [3, 3], order: 2 }),
        lineDs(BREAK1_LINE, '#1f2fe0', 2.5, { borderDash: [8, 4], order: 2 }),
        ...FLAG_LINES.map((l) => lineDs(l, '#3a78f0', 2, { borderDash: [4, 3], order: 2 })),
      ],
    },
    options: baseOptions(10, 20, xScale(true), yScale({
      min: 78.28, max: 101.07, ticks: PRICE_TICKS,
      label: (v) => String(v),
      grid: (v) => (v % 2 === 0 ? GRID : 'rgba(0,0,0,0)'),
    })),
    plugins: [panelPlugin({
      legend: [
        { icon: 'candle', color: '#000', parts: [['$USD (Weekly) 96.89', '#000']] },
        { icon: 'mountain', color: '#b4b8c0', parts: [['BB(20,2.0) 89.74 - 95.37 - 101.00', '#9a9a9a']] },
        { icon: 'line', color: '#e0102e', parts: [['MA(10) 97.71', '#e0102e']] },
        { icon: 'line', color: '#1a5a1a', parts: [['MA(50) 88.42', '#1a5a1a']] },
        { icon: 'line', color: '#ff2aff', parts: [['MA(100) 84.65', '#ff2aff']] },
        { icon: 'line', color: '#8a3cf0', parts: [['MA(200) 82.27', '#8a3cf0']] },
      ],
      legendFirst: 11,
      tags: [
        { v: 101.0, text: '101.00', color: '#9a9a9a' },
        { v: 97.71, text: '97.71', color: '#e0102e' },
        { v: 96.89, text: '96.89', color: '#000', bold: true },
        { v: 95.37, text: '95.37', color: '#9a9a9a' },
        { v: 89.74, text: '89.74', color: '#9a9a9a' },
        { v: 88.42, text: '88.42', color: '#1a5a1a' },
        { v: 84.65, text: '84.65', color: '#ff2aff' },
        { v: 82.27, text: '82.27', color: '#8a3cf0' },
      ],
      extra: priceExtras,
    })],
  };
}

const histBars = (thickness: number) => ({
  type: 'bar',
  data: MACD_HIST.map((v, i) => ({ x: i, y: v })),
  backgroundColor: HIST_FILL,
  borderColor: HIST_EDGE,
  borderWidth: 1,
  barThickness: thickness,
  grouped: false,
  order: 5,
});

function macdConfig() {
  return {
    type: 'line',
    data: {
      datasets: [
        histBars(5),
        lineDs(MACD_SIGNAL, LINE_RED, 1.2, { cubicInterpolationMode: 'monotone', order: 2 }),
        lineDs(MACD_LINE, '#000', 2, { cubicInterpolationMode: 'monotone', order: 1 }),
      ],
    },
    options: baseOptions(8, 8, xScale(false), yScale({
      min: -0.745, max: 3.566, ticks: MACD_TICKS,
      label: (v) => v.toFixed(1),
      grid: () => GRID,
    })),
    plugins: [panelPlugin({
      legend: [{ icon: 'line', color: '#000', parts: [['MACD(12,26,9) 2.763', '#000'], [', 3.031', LINE_RED], [', -0.268', '#3d8fc0']] }],
      legendFirst: 11.5,
      tags: [
        { v: 3.031, text: '3.031', color: LINE_RED },
        { v: 2.763, text: '2.763', color: '#000' },
        { v: -0.268, text: '-0.268', color: '#3d8fc0' },
      ],
    })],
  };
}

function histConfig() {
  return {
    type: 'line',
    data: { datasets: [histBars(5)] },
    options: baseOptions(8, 8, xScale(false), yScale({
      min: -0.576, max: 0.654, ticks: HIST_TICKS,
      label: (v) => v.toFixed(1),
      grid: () => GRID,
    })),
    plugins: [panelPlugin({
      legend: [{ icon: 'bars', color: '#5b4fb0', parts: [['MACD(12,26,9) Hist -0.268', '#000']] }],
      legendFirst: 11.5,
      tags: [{ v: -0.268, text: '-0.268', color: '#3d8fc0' }],
    })],
  };
}

function stoConfig() {
  return {
    type: 'line',
    data: {
      datasets: [
        lineDs(hline(50), '#7a7a80', 1, { borderDash: DASHDOT, order: 5 }),
        lineDs(STO_D, LINE_RED, 1.2, { order: 2 }),
        lineDs(STO_K, '#000', 2, { order: 1 }),
      ],
    },
    options: baseOptions(8, 2, xScale(true), yScale({
      min: -4.2, max: 105.2, ticks: OSC_TICKS,
      label: (v) => (STO_LABELS.includes(v) ? String(v) : ''),
      grid: (v) => (v === 20 || v === 80 ? GRID_DARK : v === 50 ? 'rgba(0,0,0,0)' : GRID),
      width: (v) => (v === 20 || v === 80 ? 1.5 : 1),
    })),
    plugins: [panelPlugin({
      legend: [{ icon: 'line', color: '#000', parts: [['Full STO %K(14,3) %D(3) 57.30', '#000'], [', 67.86', LINE_RED]] }],
      legendFirst: 11.5,
      tags: [
        { v: 67.86, text: '67.86', color: LINE_RED },
        { v: 57.3, text: '57.30', color: '#000' },
      ],
    })],
  };
}

function Panel({ top, height, z, build }: { top: number; height: number; z: number; build: () => any }) {
  const ref = useRef<HTMLCanvasElement>(null);
  useEffect(() => {
    const chart = new Chart(ref.current as HTMLCanvasElement, build());
    return () => chart.destroy();
  }, []);
  return (
    <canvas
      ref={ref}
      width={1250}
      height={height}
      style={{ position: 'absolute', left: 0, top, width: 1250, height, zIndex: z, display: 'block' }}
    />
  );
}

export default function App() {
  return (
    <div style={{ position: 'absolute', left: 0, top: 0, width: 1250, height: 1200, background: '#ffffff', fontFamily: SANS, color: '#000', overflow: 'hidden' }}>
      <div style={{ position: 'absolute', left: 16, top: 1, whiteSpace: 'nowrap', fontSize: 12, lineHeight: '16px' }}>
        <span style={{ fontWeight: 'bold', fontSize: 15 }}>$USD</span> US Dollar Index - Cash Settle (EOD) <span style={{ fontSize: 10.5 }}>ICE</span>
      </div>
      <div style={{ position: 'absolute', left: 16, top: 15, whiteSpace: 'nowrap', fontSize: 11, lineHeight: '14px' }}>27-Apr-2015</div>
      <div style={{ position: 'absolute', right: 38, top: 3, whiteSpace: 'nowrap', fontSize: 11, lineHeight: '14px', color: '#555' }}>© StockCharts.com</div>
      <div style={{ position: 'absolute', right: 38, top: 15, whiteSpace: 'nowrap', fontSize: 11.5, lineHeight: '14px' }}>
        <b>Open</b> 97.12 <b>High</b> 97.46 <b>Low</b> 96.62 <b>Close</b> 96.89 <b>Chg</b> -0.21 (-0.22%) <span style={{ color: '#c8143c', fontSize: 9 }}>▼</span>
      </div>
      <Panel top={21} height={182} z={2} build={rsiConfig} />
      <Panel top={185} height={520} z={4} build={priceConfig} />
      <Panel top={677} height={182} z={1} build={macdConfig} />
      <Panel top={843} height={182} z={2} build={histConfig} />
      <Panel top={1009} height={191} z={3} build={stoConfig} />
    </div>
  );
}
